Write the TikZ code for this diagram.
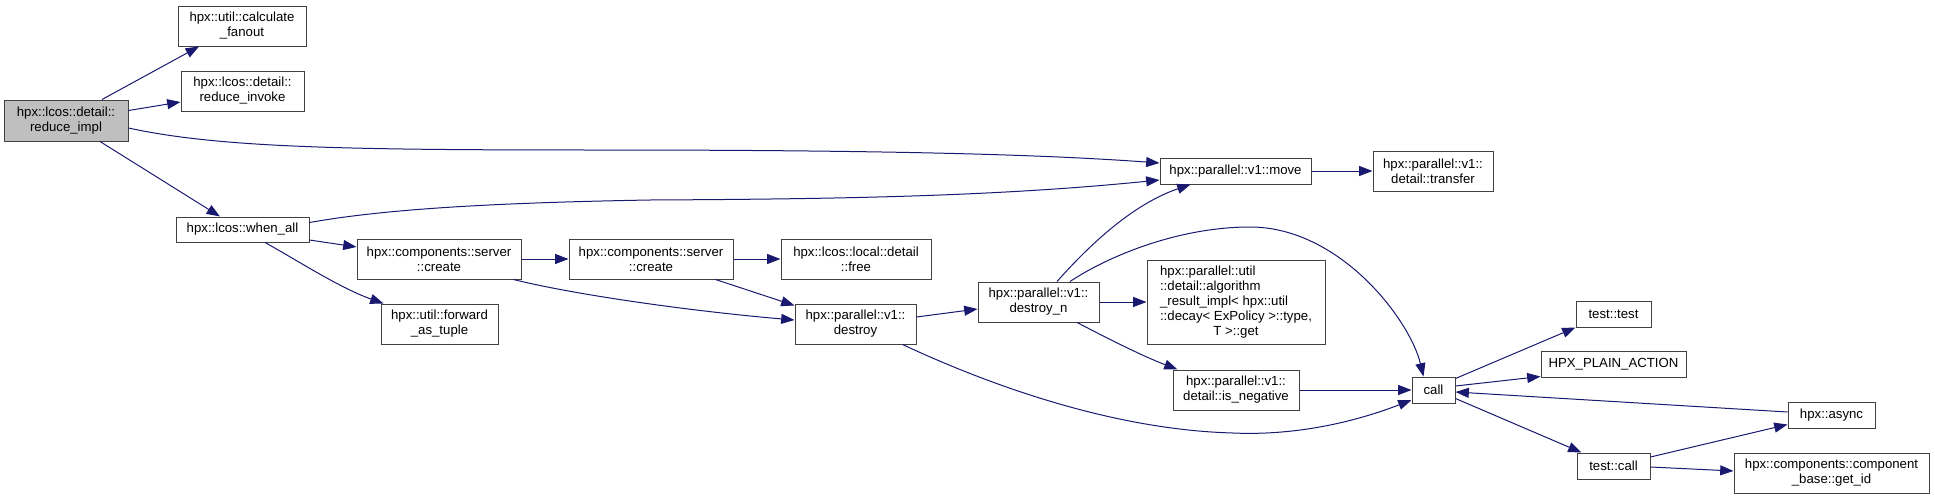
\documentclass[tikz,border=0pt]{standalone}
\usepackage{fontspec}
\setmainfont{Liberation Sans}
\usetikzlibrary{arrows.meta,calc}
\definecolor{edgec}{HTML}{191970}
\definecolor{boxc}{HTML}{404040}
\definecolor{rootfill}{HTML}{BFBFBF}
\tikzset{
  box/.style={draw=boxc, line width=0.75pt, fill=white, inner sep=0pt, align=center,
    font=\fontsize{9.9pt}{11.25pt}\selectfont},
  edge/.style={draw=edgec, line width=0.75pt, -{Triangle[length=10pt,width=7.5pt]}}
}
\newcommand\bx[7][]{\node[box,#1,minimum width={(#5-#3)*0.75pt},minimum height={(#6-#4)*0.75pt}] (#2) at ({(#3+#5)/2},{(#4+#6)/2}) {#7};}
\begin{document}
\begin{tikzpicture}[x=0.75pt,y=-0.75pt]
\useasboundingbox (0,0) rectangle (1935,500);
% nodes
\bx[fill=rootfill]{reduce}{4}{100}{128}{141}{hpx::lcos::detail::\\reduce\_impl}
\bx{fanout}{178}{6}{306}{46}{hpx::util::calculate\\\_fanout}
\bx{invoke}{181}{71}{304}{111}{hpx::lcos::detail::\\reduce\_invoke}
\bx{whenall}{176}{217}{309}{242}{hpx::lcos::when\_all}
\bx{createA}{357}{239}{521}{279}{hpx::components::server\\::create}
\bx{fwd}{381}{304}{498}{344}{hpx::util::forward\\\_as\_tuple}
\bx{createB}{569}{239}{733}{279}{hpx::components::server\\::create}
\bx{free}{781}{239}{931}{279}{hpx::lcos::local::detail\\::free}
\bx{destroy}{795}{304}{916}{344}{hpx::parallel::v1::\\destroy}
\bx{destroyn}{978}{282}{1099}{322}{hpx::parallel::v1::\\destroy\_n}
\bx{move}{1160}{158}{1311}{184}{hpx::parallel::v1::move}
\bx{transfer}{1373}{151}{1493}{191}{hpx::parallel::v1::\\detail::transfer}
\bx{algo}{1147}{260}{1325}{344}{\begin{tabular}{@{}l@{}}hpx::parallel::util\\::detail::algorithm\\\_result\_impl< hpx::util\\::decay< ExPolicy >::type,\\\multicolumn{1}{@{}c@{}}{T >::get}\end{tabular}}
\bx{isneg}{1173}{370}{1299}{410}{hpx::parallel::v1::\\detail::is\_negative}
\bx{call}{1412}{377}{1455}{403}{call}
\bx{testtest}{1576}{301}{1651}{327}{test::test}
\bx{plain}{1541}{351}{1686}{377}{HPX\_PLAIN\_ACTION}
\bx{async}{1788}{402}{1875}{428}{hpx::async}
\bx{testcall}{1577}{453}{1650}{479}{test::call}
\bx{getid}{1734}{453}{1929}{493}{hpx::components::component\\\_base::get\_id}
% edges
\draw[edge] ($(reduce.north)+(36,0)$) -- ($(fanout.south)+(-43,0)$);
\draw[edge] ($(reduce.east)+(0,-10)$) -- ($(invoke.west)+(0,11)$);
\draw[edge] ($(reduce.east)+(0,7.5)$) .. controls (220,148) and (350,150) .. (600,150)
   .. controls (900,150) and (1050,155) .. ($(move.west)+(0,-8)$);
\draw[edge] ($(reduce.south)+(34,0)$) -- ($(whenall.north)+(-22.5,0)$);
\draw[edge] ($(whenall.east)+(0,-7)$) .. controls (380,210) and (480,203) .. (650,200)
   .. controls (850,199) and (1000,196) .. ($(move.west)+(0,9)$);
\draw[edge] ($(whenall.east)+(0,10.5)$) -- ($(createA.west)+(0,-12)$);
\draw[edge] ($(whenall.south)+(22.5,0)$) .. controls (300,262) and (340,288) .. ($(fwd.north west)+(3,0)$);
\draw[edge] (createA.east) -- (createB.west);
\draw[edge] ($(createA.south east)+(-8,0)$) .. controls (580,296) and (700,312) .. ($(destroy.west)+(0,-4)$);
\draw[edge] (createB.east) -- (free.west);
\draw[edge] ($(createB.south east)+(-18,0)$) -- ($(destroy.north west)+(0,2)$);
\draw[edge] ($(destroy.east)+(0,-7)$) -- ($(destroyn.west)+(0,7)$);
\draw[edge] ($(destroy.south east)+(-14,0)$) .. controls (1000,390) and (1120,430) .. (1233,433)
   .. controls (1300,436) and (1360,420) .. ($(call.west)+(0,10)$);
\draw[edge] ($(destroyn.north)+(18.5,0)$) .. controls (1085,250) and (1130,205) .. ($(move.south)+(-45,0)$);
\draw[edge] ($(destroyn.north)+(31.5,0)$) .. controls (1110,255) and (1180,227) .. (1250,227)
   .. controls (1340,227) and (1410,320) .. ($(call.north)+(-10,0)$);
\draw[edge] (destroyn.east) -- (algo.west);
\draw[edge] ($(destroyn.south)+(38.5,0)$) .. controls (1105,337) and (1140,355) .. ($(isneg.north west)+(5,0)$);
\draw[edge] (isneg.east) -- (call.west);
\draw[edge] ($(call.north east)+(0,2)$) -- (testtest.south west);
\draw[edge] ($(call.east)+(0,-4)$) -- ($(plain.south west)+(0,-1)$);
\draw[edge] ($(async.west)+(0,-3)$) -- ($(call.east)+(0,2)$);
\draw[edge] ($(call.south east)+(0,-5)$) -- ($(testcall.north west)+(5,0)$);
\draw[edge] ($(testcall.east)+(0,-9)$) -- ($(async.south west)+(0,-4)$);
\draw[edge] ($(testcall.east)+(0,1)$) -- ($(getid.west)+(0,-2)$);
\draw[edge] (move.east) -- (transfer.west);
\end{tikzpicture}
\end{document}
